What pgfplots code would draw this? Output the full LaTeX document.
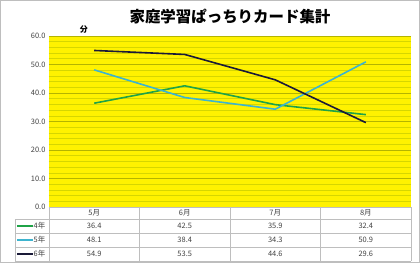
\documentclass[border=0pt]{standalone}
\usepackage{fontspec}
\setmainfont{Noto Sans CJK JP}
\usepackage{pgfplots}
\pgfplotsset{compat=1.18}
\definecolor{c4}{HTML}{1FA347}
\definecolor{c5}{HTML}{3DB4CF}
\definecolor{c6}{HTML}{1A1A38}
\definecolor{gmaj}{HTML}{B4B400}
\definecolor{gmin}{HTML}{D6D600}
\definecolor{txt}{HTML}{404040}
\definecolor{tbl}{HTML}{BEBEBE}
\begin{document}
\begin{tikzpicture}[x=1bp,y=1bp]
\draw[color=tbl,line width=0.8bp] (0.5,0.5) rectangle (419.5,262.5);
\begin{axis}[at={(49bp,56bp)},anchor=south west,
  scale only axis, width=362bp, height=171bp,
  xmin=-0.5, xmax=3.5, ymin=0, ymax=60,
  xtick=\empty, ytick={0,10,...,60},
  minor y tick num=4,
  ymajorgrids, yminorgrids,
  major grid style={color=gmaj,line width=0.6bp},
  minor grid style={color=gmin,line width=0.5bp},
  axis background/.style={fill=yellow},
  axis line style={draw=none},
  major tick length=0pt, minor tick length=0pt,
  yticklabel style={font=\fontsize{7.5}{8}\selectfont,text=txt,
    /pgf/number format/.cd,fixed,fixed zerofill,precision=1,assume math mode=true},
  ylabel={}, clip=false]
\addplot[c4,line width=1.6bp] coordinates {(0,36.4)(1,42.5)(2,35.9)(3,32.4)};
\addplot[c5,line width=1.6bp] coordinates {(0,48.1)(1,38.4)(2,34.3)(3,50.9)};
\addplot[c6,line width=1.6bp] coordinates {(0,54.9)(1,53.5)(2,44.6)(3,29.6)};
\end{axis}
% title
\node[font=\fontsize{15.5}{16}\selectfont\bfseries] at (230,246) {家庭学習ぱっちりカード集計};
\node[font=\fontsize{8}{9}\selectfont\bfseries] at (84,233) {分};
% table
\begin{scope}[color=tbl,line width=0.6bp]
\draw (49,56) -- (411,56);
\draw (15,44) -- (411,44);
\draw (15,30) -- (411,30);
\draw (15,16) -- (411,16);
\draw (15,2) -- (411,2);
\draw (15,44) -- (15,2);
\foreach \x in {49,139.5,230,320.5,411} \draw (\x,56) -- (\x,2);
\end{scope}
\foreach \m [count=\i from 0] in {5月,6月,7月,8月}
  \node[font=\fontsize{7.5}{8}\selectfont,text=txt] at ({94.25+90.5*\i},50) {\m};
\foreach \v [count=\i from 0] in {36.4,42.5,35.9,32.4}
  \node[font=\fontsize{7.5}{8}\selectfont,text=txt] at ({94.25+90.5*\i},37) {\v};
\foreach \v [count=\i from 0] in {48.1,38.4,34.3,50.9}
  \node[font=\fontsize{7.5}{8}\selectfont,text=txt] at ({94.25+90.5*\i},23) {\v};
\foreach \v [count=\i from 0] in {54.9,53.5,44.6,29.6}
  \node[font=\fontsize{7.5}{8}\selectfont,text=txt] at ({94.25+90.5*\i},9) {\v};
\draw[c4,line width=1.6bp] (17,37) -- (33,37);
\draw[c5,line width=1.6bp] (17,23) -- (33,23);
\draw[c6,line width=1.6bp] (17,9) -- (33,9);
\node[font=\fontsize{7.5}{8}\selectfont,text=txt,anchor=west,inner sep=0.5bp] at (33,37) {4年};
\node[font=\fontsize{7.5}{8}\selectfont,text=txt,anchor=west,inner sep=0.5bp] at (33,23) {5年};
\node[font=\fontsize{7.5}{8}\selectfont,text=txt,anchor=west,inner sep=0.5bp] at (33,9) {6年};
\end{tikzpicture}
\end{document}
